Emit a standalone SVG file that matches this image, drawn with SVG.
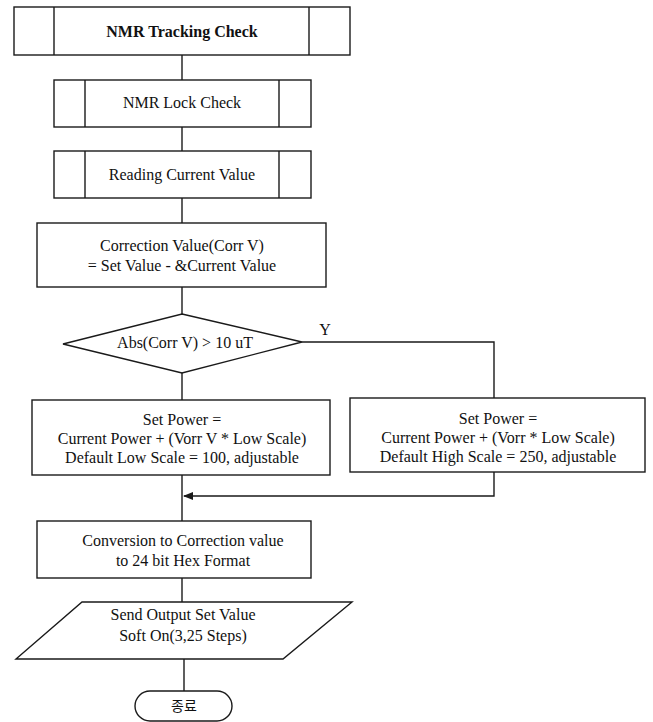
<svg xmlns="http://www.w3.org/2000/svg" width="653" height="722" viewBox="0 0 653 722">
<defs>
<style>
.s{fill:#fff;stroke:#1a1a1a;stroke-width:1.4}
.l{fill:none;stroke:#1a1a1a;stroke-width:1.4}
.t{font-family:"Liberation Serif","Times New Roman",serif;font-size:16px;fill:#111;text-anchor:middle}
.b{font-weight:bold;font-size:16px}
.k{font-family:"Noto Sans CJK KR","Liberation Serif",sans-serif;font-size:14px;fill:#111;text-anchor:middle}
</style>
<marker id="ah" markerWidth="10" markerHeight="8" refX="9" refY="4" orient="auto" markerUnits="userSpaceOnUse">
<path d="M0,0 L10,4 L0,8 Z" fill="#1a1a1a"/>
</marker>
</defs>
<rect width="653" height="722" fill="#fff"/>
<g id="connectors">
<path class="l" d="M182,55 V80"/>
<path class="l" d="M182,127 V151"/>
<path class="l" d="M182,198 V223"/>
<path class="l" d="M182,287 V314"/>
<path class="l" d="M182,373 V400"/>
<path class="l" d="M302,342 H494 V398"/>
<path class="l" d="M494,472 V496 H184" marker-end="url(#ah)"/>
<path class="l" d="M182,475 V521"/>
<path class="l" d="M182,578 V602"/>
<path class="l" d="M184,659 V691"/>
<text class="t" x="325" y="335">Y</text>
</g>
<g id="n1">
<rect class="s" x="14" y="7" width="336" height="48"/>
<path class="l" d="M54,7 V55 M309,7 V55"/>
<text class="t b" x="182" y="37">NMR Tracking Check</text>
</g>
<g id="n2">
<rect class="s" x="54" y="80" width="257" height="47"/>
<path class="l" d="M85,80 V127 M279,80 V127"/>
<text class="t" x="182" y="108">NMR Lock Check</text>
</g>
<g id="n3">
<rect class="s" x="54" y="151" width="257" height="47"/>
<path class="l" d="M85,151 V198 M279,151 V198"/>
<text class="t" x="182" y="180">Reading Current Value</text>
</g>
<g id="n4">
<rect class="s" x="37" y="223" width="289" height="64"/>
<text class="t" x="182" y="251">Correction Value(Corr V)</text>
<text class="t" x="182" y="271">= Set Value - &amp;Current Value</text>
</g>
<g id="n5">
<polygon class="s" points="182,314 302,342 182,373 63,344"/>
<text class="t" x="185" y="348">Abs(Corr V) &gt; 10 uT</text>
</g>
<g id="n6">
<rect class="s" x="32" y="400" width="298" height="75"/>
<text class="t" x="182" y="425">Set Power =</text>
<text class="t" x="182" y="444">Current Power + (Vorr V * Low Scale)</text>
<text class="t" x="182" y="463">Default Low Scale = 100, adjustable</text>
</g>
<g id="n7">
<rect class="s" x="350" y="398" width="295" height="74"/>
<text class="t" x="498" y="424">Set Power =</text>
<text class="t" x="498" y="443">Current Power + (Vorr * Low Scale)</text>
<text class="t" x="498" y="462">Default High Scale = 250, adjustable</text>
</g>
<g id="n8">
<rect class="s" x="37" y="521" width="274" height="57"/>
<text class="t" x="183" y="546">Conversion to Correction value</text>
<text class="t" x="183" y="566">to 24 bit Hex Format</text>
</g>
<g id="n9">
<polygon class="s" points="82,602 352,602 283,659 16,659"/>
<text class="t" x="183" y="620">Send Output Set Value</text>
<text class="t" x="183" y="641">Soft On(3,25 Steps)</text>
</g>
<g id="n10">
<rect class="s" x="135" y="691" width="97" height="30" rx="15" ry="15"/>
<text class="k" x="184" y="711">종료</text>
</g>
</svg>
